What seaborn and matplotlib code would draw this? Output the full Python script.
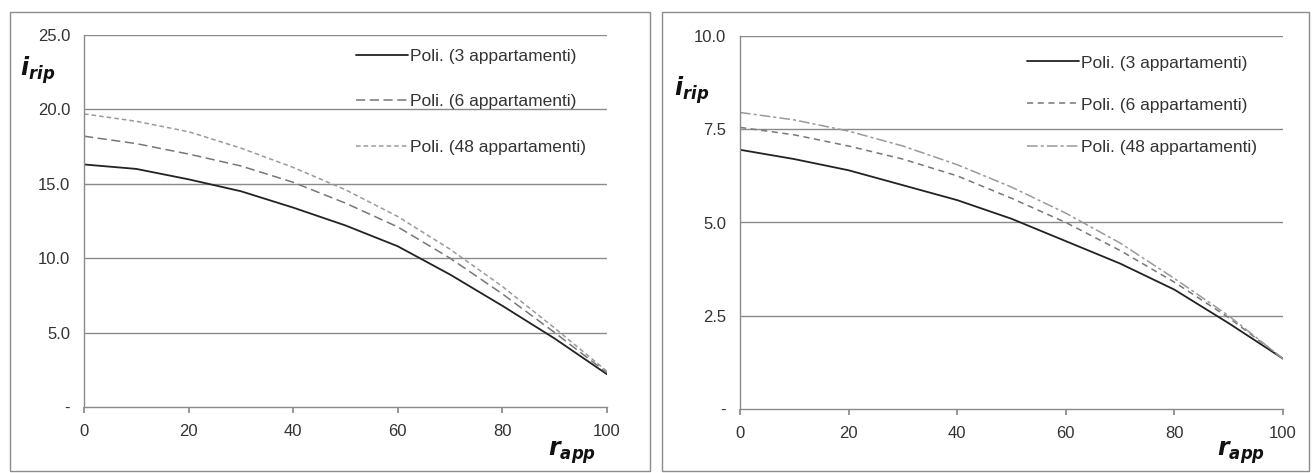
import matplotlib
matplotlib.use("Agg")
import matplotlib.pyplot as plt
import seaborn as sns
import pandas as pd
from matplotlib.patches import Rectangle

# ---- data ----
r_app = [0, 10, 20, 30, 40, 50, 60, 70, 80, 90, 100]
left_3 = [16.3, 16.0, 15.3, 14.5, 13.4, 12.2, 10.8, 8.9, 6.8, 4.6, 2.2]
left_6 = [18.2, 17.7, 17.0, 16.2, 15.1, 13.7, 12.1, 10.0, 7.6, 5.0, 2.3]
left_48 = [19.7, 19.2, 18.5, 17.4, 16.1, 14.6, 12.8, 10.6, 8.1, 5.3, 2.4]
right_3 = [6.95, 6.7, 6.4, 6.0, 5.6, 5.1, 4.5, 3.9, 3.2, 2.3, 1.35]
right_6 = [7.55, 7.35, 7.05, 6.7, 6.25, 5.65, 5.0, 4.25, 3.4, 2.45, 1.35]
right_48 = [7.95, 7.75, 7.45, 7.05, 6.55, 5.95, 5.25, 4.45, 3.5, 2.5, 1.35]
series_names = ["Poli. (3 appartamenti)", "Poli. (6 appartamenti)", "Poli. (48 appartamenti)"]
x_ticks = [0, 20, 40, 60, 80, 100]
left_yticks = [0, 5, 10, 15, 20, 25]
left_ylabels = ["-", "5.0", "10.0", "15.0", "20.0", "25.0"]
right_yticks = [0, 2.5, 5, 7.5, 10]
right_ylabels = ["-", "2.5", "5.0", "7.5", "10.0"]

sns.set_theme(style="white")
plt.rcParams['font.family'] = ['Liberation Sans Narrow', 'Liberation Sans', 'DejaVu Sans']

fig = plt.figure(figsize=(13.12, 4.73), dpi=100)

# panel borders
for (x0, x1) in [(10, 650), (662, 1309)]:
    fig.patches.append(Rectangle((x0 / 1312, 2 / 473), (x1 - x0) / 1312, (471 - 12) / 473,
                                 transform=fig.transFigure, fill=False,
                                 edgecolor="#8c8c8c", linewidth=1.0))

styles = {
    series_names[0]: dict(color="#222222", ls="-", lw=1.3),
    series_names[1]: dict(color="#777777", ls=(0, (6, 3)), lw=1.1),
    series_names[2]: dict(color="#9a9a9a", ls=(0, (3, 2)), lw=1.1),
}
styles_r = {
    series_names[0]: dict(color="#222222", ls="-", lw=1.3),
    series_names[1]: dict(color="#777777", ls=(0, (4, 3)), lw=1.1),
    series_names[2]: dict(color="#9a9a9a", ls=(0, (7, 2, 2, 2)), lw=1.1),
}

def make_panel(rect, ys, yticks, ylabels, ymax, st, xlab_pos, ylab_pos, leg_anchor, spacing):
    ax = fig.add_axes(rect)
    for name, y in zip(series_names, ys):
        df = pd.DataFrame({"r": r_app, "i": y})
        s = st[name]
        sns.lineplot(data=df, x="r", y="i", ax=ax, color=s["color"], linestyle=s["ls"],
                     linewidth=s["lw"], label=name)
    ax.set_xlim(0, 100)
    ax.set_ylim(0, ymax)
    ax.set_xticks(x_ticks)
    ax.set_xticklabels([str(t) for t in x_ticks])
    ax.set_yticks(yticks)
    ax.set_yticklabels(ylabels)
    for yv in yticks[1:]:
        ax.axhline(yv, color="#8a8a8a", lw=1.0, zorder=0)
    ax.set_xlabel("")
    ax.set_ylabel("")
    for sp in ["top", "right"]:
        ax.spines[sp].set_visible(False)
    for sp in ["left", "bottom"]:
        ax.spines[sp].set_color("#8a8a8a")
        ax.spines[sp].set_linewidth(1.0)
    ax.tick_params(axis="x", direction="out", length=4, color="#8a8a8a", labelsize=12,
                   labelcolor="#333333", pad=8, bottom=True)
    ax.tick_params(axis="y", length=0, labelsize=12, labelcolor="#333333", pad=10)
    ax.legend(loc="upper left", bbox_to_anchor=leg_anchor, frameon=False,
              fontsize=12.5, handlelength=3.0, handletextpad=0.1,
              labelspacing=spacing, labelcolor="#333333")
    fig.text(ylab_pos[0], ylab_pos[1], r"$\mathbfit{i}_{\mathbfit{rip}}$", fontsize=17,
             color="#111111", ha="left", va="center")
    fig.text(xlab_pos[0], xlab_pos[1], r"$\mathbfit{r}_{\mathbfit{app}}$", fontsize=17,
             color="#111111", ha="left", va="center")
    return ax

make_panel([84 / 1312, 1 - 407 / 473, (607 - 84) / 1312, (407 - 35) / 473],
           [left_3, left_6, left_48], left_yticks, left_ylabels, 25, styles,
           (548 / 1312, 1 - 453 / 473), (20 / 1312, 1 - 70 / 473), (0.49, 1.005), 1.75)
make_panel([740 / 1312, 1 - 409 / 473, (1283 - 740) / 1312, (409 - 36) / 473],
           [right_3, right_6, right_48], right_yticks, right_ylabels, 10, styles_r,
           (1217 / 1312, 1 - 453 / 473), (674 / 1312, 1 - 90 / 473), (0.50, 0.99), 1.55)

fig.savefig("out.png", dpi=100)
